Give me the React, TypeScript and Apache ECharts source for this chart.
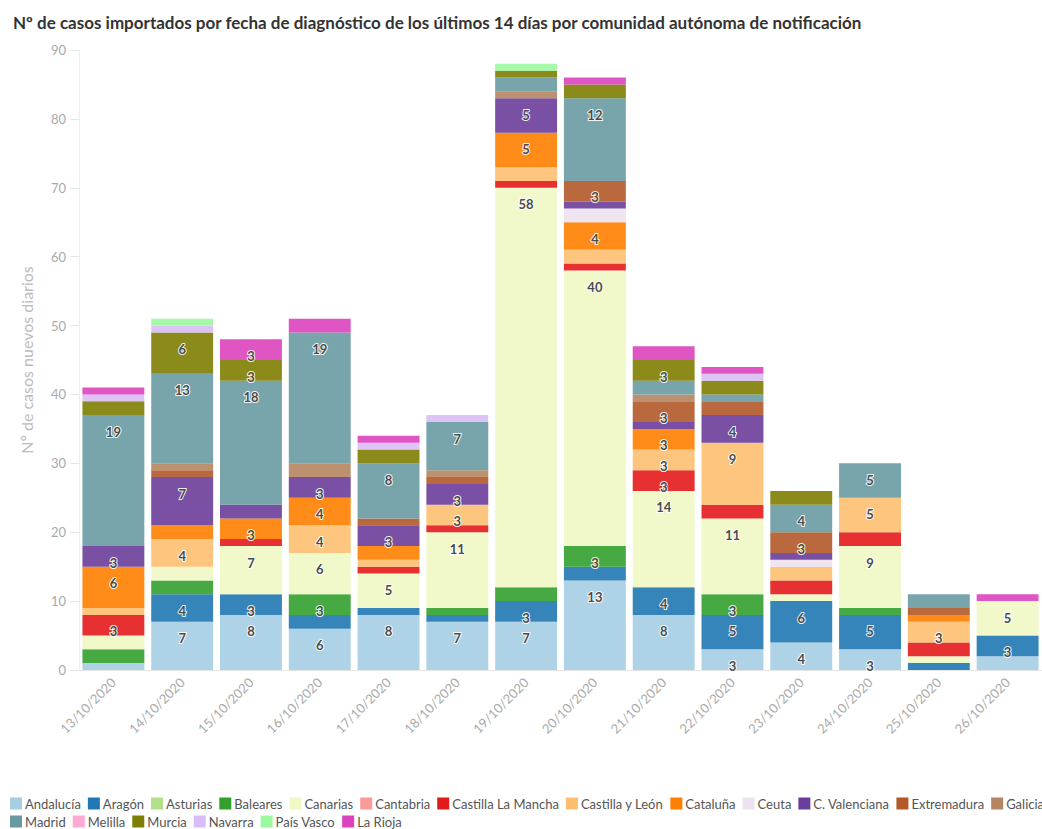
import React, { useEffect, useRef } from "react";
import * as echarts from "echarts";

const categories = ["13/10/2020","14/10/2020","15/10/2020","16/10/2020","17/10/2020","18/10/2020","19/10/2020","20/10/2020","21/10/2020","22/10/2020","23/10/2020","24/10/2020","25/10/2020","26/10/2020"];

const regions = ["Andalucía","Aragón","Asturias","Baleares","Canarias","Cantabria","Castilla La Mancha","Castilla y León","Cataluña","Ceuta","C. Valenciana","Extremadura","Galicia","Madrid","Melilla","Murcia","Navarra","País Vasco","La Rioja"];

const colors = ["#a6cee3","#1f78b4","#b2df8a","#33a02c","#f0f8c4","#fb9a99","#e31a1c","#fdbf6f","#ff7f00","#ece2f0","#6a3d9a","#b15928","#b48560","#699aa2","#ffaad4","#7e7e03","#dabcf6","#9cf89e","#dc42bd"];

const andalucia = [1,7,8,6,8,7,7,13,8,3,4,3,0,2];
const aragon = [0,4,3,2,1,1,3,2,4,5,6,5,1,3];
const asturias = [0,0,0,0,0,0,0,0,0,0,0,0,0,0];
const baleares = [2,2,0,3,0,1,2,3,0,3,0,1,0,0];
const canarias = [2,2,7,6,5,11,58,40,14,11,1,9,1,5];
const cantabria = [0,0,0,0,0,0,0,0,0,0,0,0,0,0];
const castillaLaMancha = [3,0,1,0,1,1,1,1,3,2,2,2,2,0];
const castillaYLeon = [1,4,0,4,1,3,2,2,3,9,2,5,3,0];
const cataluna = [6,2,3,4,2,0,5,4,3,0,0,0,1,0];
const ceuta = [0,0,0,0,0,0,0,2,0,0,1,0,0,0];
const cValenciana = [3,7,2,3,3,3,5,1,1,4,1,0,0,0];
const extremadura = [0,1,0,0,1,1,0,3,3,2,3,0,1,0];
const galicia = [0,1,0,2,0,1,1,0,1,0,0,0,0,0];
const madrid = [19,13,18,19,8,7,2,12,2,1,4,5,2,0];
const melilla = [0,0,0,0,0,0,0,0,0,0,0,0,0,0];
const murcia = [2,6,3,0,2,0,1,2,3,2,2,0,0,0];
const navarra = [1,1,0,0,1,1,0,0,0,1,0,0,0,0];
const paisVasco = [0,1,0,0,0,0,1,0,0,0,0,0,0,0];
const laRioja = [1,0,3,2,1,0,0,1,2,1,0,0,0,1];

const seriesValues = [andalucia,aragon,asturias,baleares,canarias,cantabria,castillaLaMancha,castillaYLeon,cataluna,ceuta,cValenciana,extremadura,galicia,madrid,melilla,murcia,navarra,paisVasco,laRioja];

const yTicks = { min: 0, max: 90, interval: 10 };

const FONT = "Lato";

export default function App() {
  const ref = useRef<HTMLDivElement>(null);
  useEffect(() => {
    if (!ref.current) return;
    const chart = echarts.init(ref.current, null, { renderer: "svg" });
    const series = regions.map((name, i) => ({
      name,
      type: "bar",
      stack: "total",
      barCategoryGap: "10%",
      data: seriesValues[i],
      itemStyle: { color: colors[i], opacity: 0.9 },
      label: {
        show: true,
        position: "insideTop",
        distance: 10,
        formatter: (p: any) => (p.value >= 3 ? String(p.value) : ""),
        color: "#333",
        fontWeight: "bold",
        fontSize: 13,
        fontFamily: FONT,
        textBorderColor: "#fff",
        textBorderWidth: 2,
      },
    }));
    const legendItem = (n: string) => ({ name: n });
    const legendBase = {
      left: 10,
      padding: 0,
      itemWidth: 12,
      itemHeight: 12,
      itemGap: 7,
      icon: "rect",
      itemStyle: { opacity: 1 },
      textStyle: { fontSize: 13, color: "#555", fontFamily: FONT, padding: [0, 0, 0, -2] },
    };
    chart.setOption({
      animation: false,
      textStyle: { fontFamily: FONT },
      title: {
        text: "Nº de casos importados por fecha de diagnóstico de los últimos 14 días por comunidad autónoma de notificación",
        left: 8,
        top: 9,
        textStyle: { fontSize: 17, fontWeight: "bold", color: "#333", fontFamily: FONT },
      },
      legend: [
        { ...legendBase, data: regions.slice(0, 13).map(legendItem), top: 797, width: 1400 },
        { ...legendBase, data: regions.slice(13).map(legendItem), top: 815 },
      ],
      grid: { left: 79, right: -21, top: 50, bottom: 159, containLabel: false },
      xAxis: {
        type: "category",
        data: categories,
        axisLine: { lineStyle: { color: "#e6e6e6" } },
        axisTick: { alignWithLabel: true, length: 6, lineStyle: { color: "#dddddd" } },
        axisLabel: { rotate: 45, color: "#aaa", fontSize: 13, fontFamily: FONT, margin: 10 },
      },
      yAxis: {
        type: "value",
        min: yTicks.min,
        max: yTicks.max,
        interval: yTicks.interval,
        name: "Nº de casos nuevos diarios",
        nameLocation: "middle",
        nameGap: 45,
        nameTextStyle: { color: "#bbb", fontSize: 16, fontFamily: FONT },
        axisLine: { show: true, lineStyle: { color: "#eeeeee" } },
        axisTick: { show: true, length: 9, lineStyle: { color: "#e6e6e6" } },
        splitLine: { show: false },
        axisLabel: { color: "#aaa", fontSize: 13, fontFamily: FONT, margin: 13 },
      },
      series,
    });
    return () => chart.dispose();
  }, []);
  return (
    <div
      ref={ref}
      style={{ position: "fixed", left: 0, top: 0, width: 1042, height: 829, overflow: "hidden", background: "#fff" }}
    />
  );
}
